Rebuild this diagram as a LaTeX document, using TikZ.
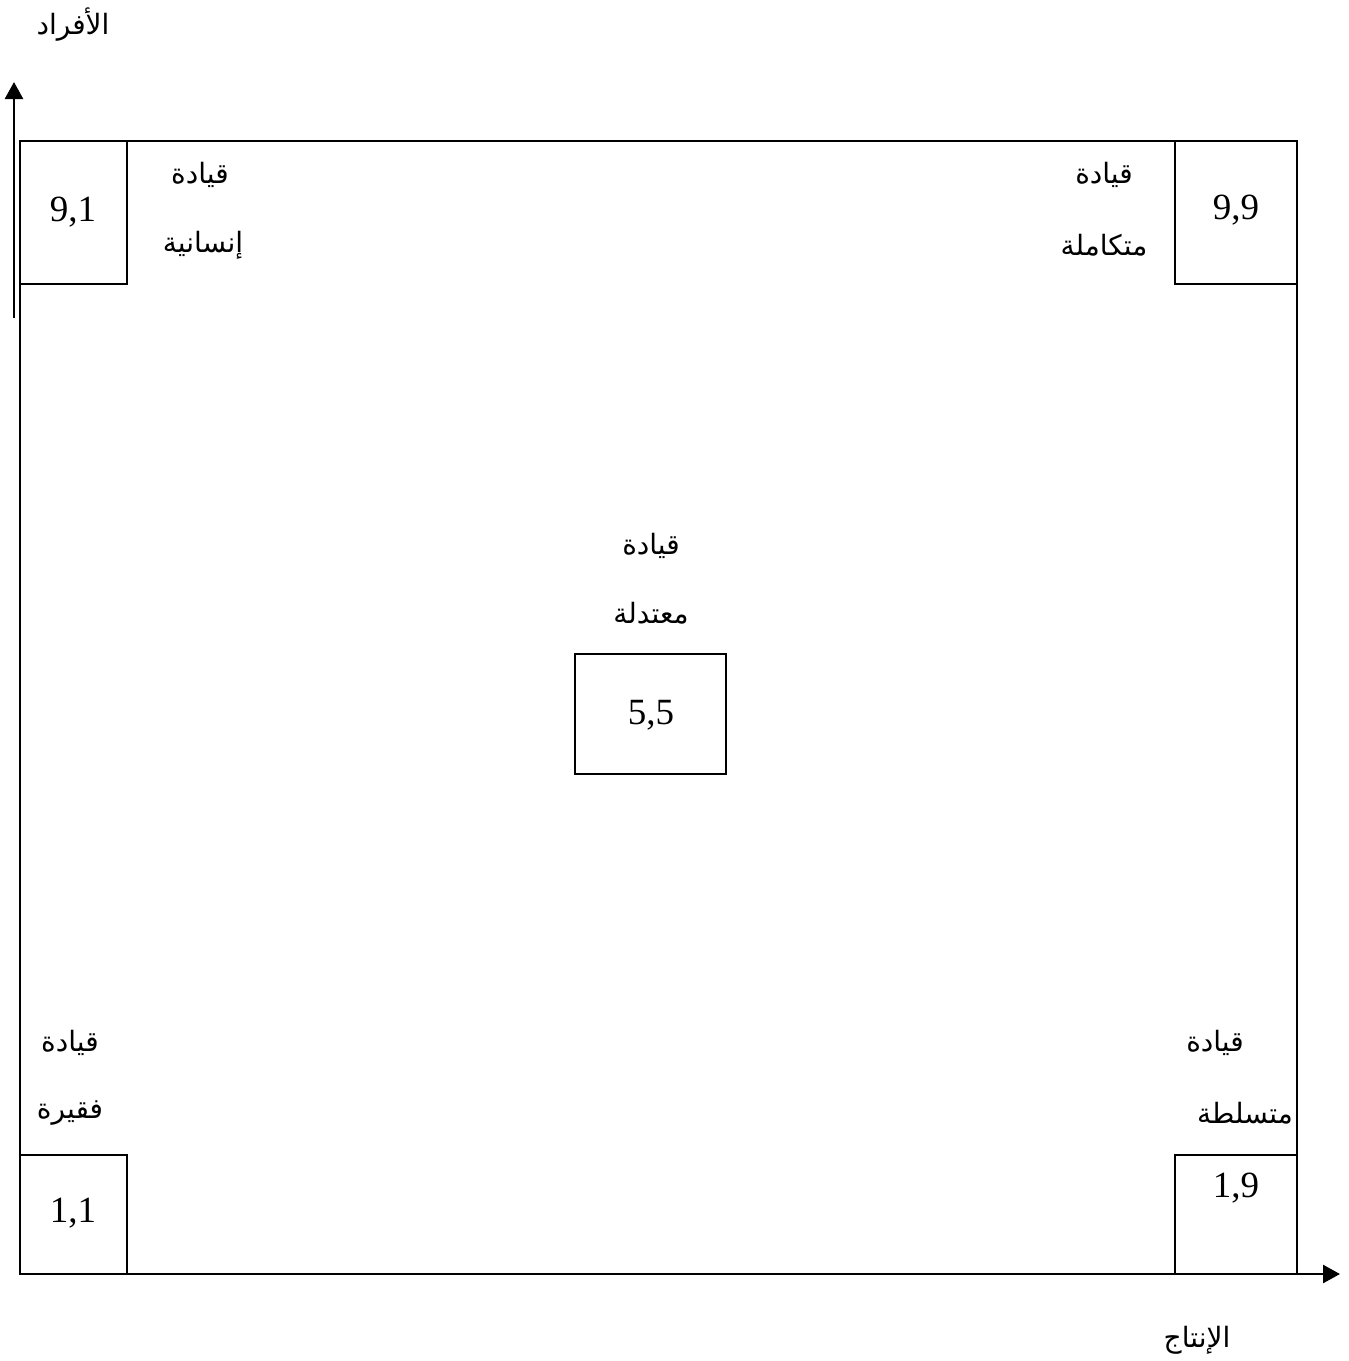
\documentclass[tikz,border=0pt]{standalone}
\usepackage{fontspec}
\setmainfont{Liberation Serif}
\newfontfamily\arabicfont[Script=Arabic]{DejaVu Sans}
\TeXXeTstate=1
\usetikzlibrary{arrows.meta}
\newcommand{\ar}[1]{{\arabicfont\beginR #1\endR}}
\begin{document}
\begin{tikzpicture}[x=1pt,y=-1pt,
  lw/.style={line width=2.6pt},
  numbox/.style={lw,draw,inner sep=0pt},
  numtxt/.style={font=\fontsize{37}{40}\selectfont,inner sep=0pt},
  artxt/.style={font=\fontsize{28}{30}\selectfont,inner sep=0pt},
  axis/.style={lw,-{Triangle[length=17pt,width=18pt]}}]
\useasboundingbox (0,0) rectangle (1349,1361);
% outer frame
\draw[lw] (20,141) rectangle (1297,1274);
% boxes
\node[numbox,minimum width=107pt,minimum height=143pt] (b91) at (73.5,212.5) {};
\node[numbox,minimum width=122pt,minimum height=143pt] (b99) at (1236,212.5) {};
\node[numbox,minimum width=107pt,minimum height=119pt] (b11) at (73.5,1214.5) {};
\node[numbox,minimum width=122pt,minimum height=119pt] (b19) at (1236,1214.5) {};
\node[numbox,minimum width=151pt,minimum height=120pt] (b55) at (650.5,714) {};
% numbers
\node[numtxt] (t91) at (73,212) {9,1};
\node[numtxt] (t99) at (1236,210) {9,9};
\node[numtxt] (t11) at (73,1213) {1,1};
\node[numtxt] (t19) at (1236,1188) {1,9};
\node[numtxt] (t55) at (651,715) {5,5};
% arabic labels
\node[artxt] (l91a) at (200,175) {\ar{قيادة}};
\node[artxt] (l91b) at (203,245) {\ar{إنسانية}};
\node[artxt] (l99a) at (1104,175) {\ar{قيادة}};
\node[artxt] (l99b) at (1104,245) {\ar{متكاملة}};
\node[artxt] (l55a) at (651,546) {\ar{قيادة}};
\node[artxt] (l55b) at (651,613) {\ar{معتدلة}};
\node[artxt] (l11a) at (70,1043) {\ar{قيادة}};
\node[artxt] (l11b) at (70,1113) {\ar{فقيرة}};
\node[artxt] (l19a) at (1215,1043) {\ar{قيادة}};
\node[artxt] (l19b) at (1245,1113) {\ar{متسلطة}};
\node[artxt] (ylab) at (73,25) {\ar{الأفراد}};
\node[artxt] (xlab) at (1197,1340) {\ar{الإنتاج}};
% axes
\coordinate (ys) at (14,318);
\coordinate (ye) at (14,82);
\coordinate (xs) at (1175,1274);
\coordinate (xe) at (1340,1274);
\draw[axis] (ys) -- (ye);
\draw[axis] (xs) -- (xe);
\end{tikzpicture}
\end{document}
